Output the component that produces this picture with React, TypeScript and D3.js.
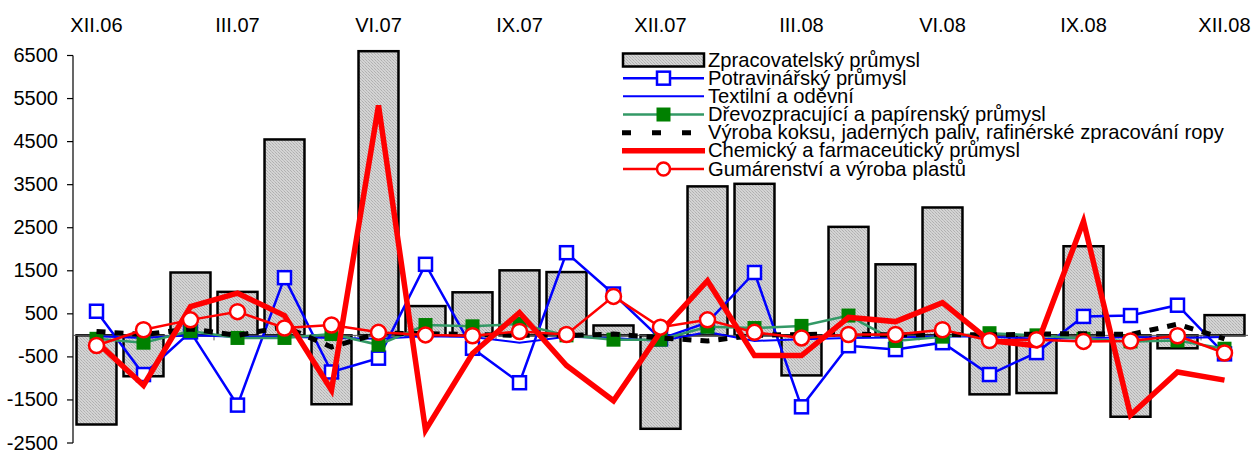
import React from 'react';
import * as d3 from 'd3';

// months XII.06 .. XII.08
const months = [
  'XII.06', 'I.07', 'II.07', 'III.07', 'IV.07', 'V.07', 'VI.07', 'VII.07', 'VIII.07', 'IX.07', 'X.07', 'XI.07',
  'XII.07', 'I.08', 'II.08', 'III.08', 'IV.08', 'V.08', 'VI.08', 'VII.08', 'VIII.08', 'IX.08', 'X.08', 'XI.08', 'XII.08',
];
const topLabels = ['XII.06', 'III.07', 'VI.07', 'IX.07', 'XII.07', 'III.08', 'VI.08', 'IX.08', 'XII.08'];
const yTicks = [-2500, -1500, -500, 500, 1500, 2500, 3500, 4500, 5500, 6500];

const zpracovatelsky = [-2070, -950, 1460, 1010, 4550, -1600, 6600, 680, 1000, 1510, 1470, 230, -2170, 3460, 3520, -930, 2520, 1650, 2970, -1370, -1340, 2070, -1890, -300, 470];
const potravinarsky = [560, -910, 80, -1620, 1340, -850, -530, 1650, -300, -1100, 1920, 960, -80, 300, 1460, -1660, -240, -330, -170, -910, -400, 440, 460, 700, -430];
const textilni = [-20, -60, 0, -30, -30, -60, -80, -20, -40, -170, -30, -60, -130, 80, -130, -90, -60, -50, -20, -30, -80, -70, -40, -60, -40];
const drevozpracujici = [-80, -170, 100, -60, -60, 30, -220, 240, 210, 265, 0, -100, -100, 200, 170, 220, 460, -130, -30, 50, 0, -80, -140, -120, -310];
const koks = [90, 20, 150, 0, 200, -270, 50, 40, 20, 0, 0, 30, -60, -130, 0, 20, 30, 10, 20, 10, 30, 40, 20, 260, -80];
const chemicky = [-150, -1160, 670, 980, 460, -1270, 5340, -2200, -420, 530, -700, -1520, 80, 1270, -470, -470, 420, 320, 760, -120, -240, 2650, -1850, -850, -1040];
const gumarenstvi = [-235, 130, 360, 550, 170, 240, 70, 10, -10, 90, 20, 905, 190, 360, 70, -60, 20, 20, 130, -120, -100, -140, -130, -10, -410];

const legendNames = [
  'Zpracovatelský průmysl',
  'Potravinářský průmysl',
  'Textilní a oděvní',
  'Dřevozpracující a papírenský průmysl',
  'Výroba koksu, jaderných paliv, rafinérské zpracování ropy',
  'Chemický a farmaceutický průmysl',
  'Gumárenství a výroba plastů',
];

const W = 1254;
const H = 451;
const font = 'Arial, "Liberation Sans", sans-serif';

const x = d3.scaleBand<string>().domain(months).range([73, 1248]).paddingInner(0.15).paddingOuter(0.075);
const y = d3.scaleLinear().domain([-2500, 6500]).range([443, 55.5]);
const cx = (i: number) => (x(months[i]) as number) + x.bandwidth() / 2;

const lineGen = d3.line<number>().x((_, i) => cx(i)).y(d => y(d));

const App: React.FC = () => {
  const step = x.step();
  const left = 73;
  const right = 1248;
  const legX1 = 623;
  const legX2 = 704;
  const legMid = (legX1 + legX2) / 2;
  const legY = (k: number) => 60 + k * 18.17;

  return (
    <svg width={W} height={H} style={{ position: 'absolute', left: 0, top: 0, background: '#fff' }} fontFamily={font}>
      <defs>
        <pattern id="hatch" width="3" height="3" patternUnits="userSpaceOnUse">
          <rect width="3" height="3" fill="#d4d4d4" />
          <rect x="0" y="0" width="1" height="1" fill="#b0b0b0" />
          <rect x="1" y="1" width="1" height="1" fill="#bdbdbd" />
          <rect x="2" y="2" width="1" height="1" fill="#b0b0b0" />
        </pattern>
      </defs>

      {/* top labels */}
      {topLabels.map(t => (
        <text key={t} x={cx(months.indexOf(t))} y={32} fontSize={20} textAnchor="middle" fill="#000">{t}</text>
      ))}

      {/* y axis */}
      <line x1={left} x2={left} y1={y(6500)} y2={y(-2500)} stroke="#000" strokeWidth={1.2} />
      {yTicks.map(t => (
        <g key={t}>
          <line x1={left - 6} x2={left} y1={y(t)} y2={y(t)} stroke="#000" strokeWidth={1.2} />
          <text x={58} y={y(t) + 6.5} fontSize={20} textAnchor="end" fill="#000">{t}</text>
        </g>
      ))}

      {/* bars */}
      {zpracovatelsky.map((v, i) => (
        <rect key={i} x={x(months[i])} width={x.bandwidth()} y={Math.min(y(v), y(0))} height={Math.abs(y(v) - y(0))}
          fill="url(#hatch)" stroke="#000" strokeWidth={2.5} />
      ))}

      {/* category axis at zero */}
      <line x1={left} x2={right} y1={y(0)} y2={y(0)} stroke="#555" strokeWidth={1} />
      {d3.range(0, 26, 3).map(k => (
        <line key={k} x1={left + k * step} x2={left + k * step} y1={y(0)} y2={y(0) + 5} stroke="#555" strokeWidth={1} />
      ))}

      {/* Potravinářský */}
      <path d={lineGen(potravinarsky) as string} fill="none" stroke="#0000ff" strokeWidth={2.5} />
      {potravinarsky.map((v, i) => (
        <rect key={i} x={cx(i) - 6.5} y={y(v) - 6.5} width={13} height={13} fill="#fff" stroke="#0000ff" strokeWidth={2.5} />
      ))}

      {/* Textilní */}
      <path d={lineGen(textilni) as string} fill="none" stroke="#0000ff" strokeWidth={2} />

      {/* Dřevozpracující */}
      <path d={lineGen(drevozpracujici) as string} fill="none" stroke="#339966" strokeWidth={2.5} />
      {drevozpracujici.map((v, i) => (
        <rect key={i} x={cx(i) - 7} y={y(v) - 7} width={14} height={14} fill="#008000" />
      ))}

      {/* Výroba koksu */}
      <path d={lineGen(koks) as string} fill="none" stroke="#000" strokeWidth={5} strokeDasharray="9,9" />

      {/* Chemický */}
      <path d={lineGen(chemicky) as string} fill="none" stroke="#ff0000" strokeWidth={5.5} strokeLinejoin="miter" />

      {/* Gumárenství */}
      <path d={lineGen(gumarenstvi) as string} fill="none" stroke="#ff0000" strokeWidth={2.5} />
      {gumarenstvi.map((v, i) => (
        <circle key={i} cx={cx(i)} cy={y(v)} r={7.5} fill="#fff" stroke="#ff0000" strokeWidth={2.5} />
      ))}

      {/* legend */}
      <g>
        <rect x={legX1} y={legY(0) - 6.5} width={legX2 - legX1} height={13} fill="url(#hatch)" stroke="#000" strokeWidth={2.5} />
        <line x1={legX1} x2={legX2} y1={legY(1)} y2={legY(1)} stroke="#0000ff" strokeWidth={2.5} />
        <rect x={legMid - 6.5} y={legY(1) - 6.5} width={13} height={13} fill="#fff" stroke="#0000ff" strokeWidth={2.5} />
        <line x1={legX1} x2={legX2} y1={legY(2)} y2={legY(2)} stroke="#0000ff" strokeWidth={2} />
        <line x1={legX1} x2={legX2} y1={legY(3)} y2={legY(3)} stroke="#339966" strokeWidth={2.5} />
        <rect x={legMid - 7} y={legY(3) - 7} width={14} height={14} fill="#008000" />
        <line x1={legX1 - 1} x2={legX2 + 1} y1={legY(4)} y2={legY(4)} stroke="#000" strokeWidth={5} strokeDasharray="9,21" />
        <line x1={legX1 - 1} x2={legX2 + 1} y1={legY(5)} y2={legY(5)} stroke="#ff0000" strokeWidth={5.5} />
        <line x1={legX1} x2={legX2} y1={legY(6)} y2={legY(6)} stroke="#ff0000" strokeWidth={2.5} />
        <circle cx={legMid} cy={legY(6)} r={6.5} fill="#fff" stroke="#ff0000" strokeWidth={2.5} />
        {legendNames.map((n, k) => (
          <text key={n} x={708} y={legY(k) + 6.5} fontSize={20.2} fill="#000">{n}</text>
        ))}
      </g>
    </svg>
  );
};

export default App;
